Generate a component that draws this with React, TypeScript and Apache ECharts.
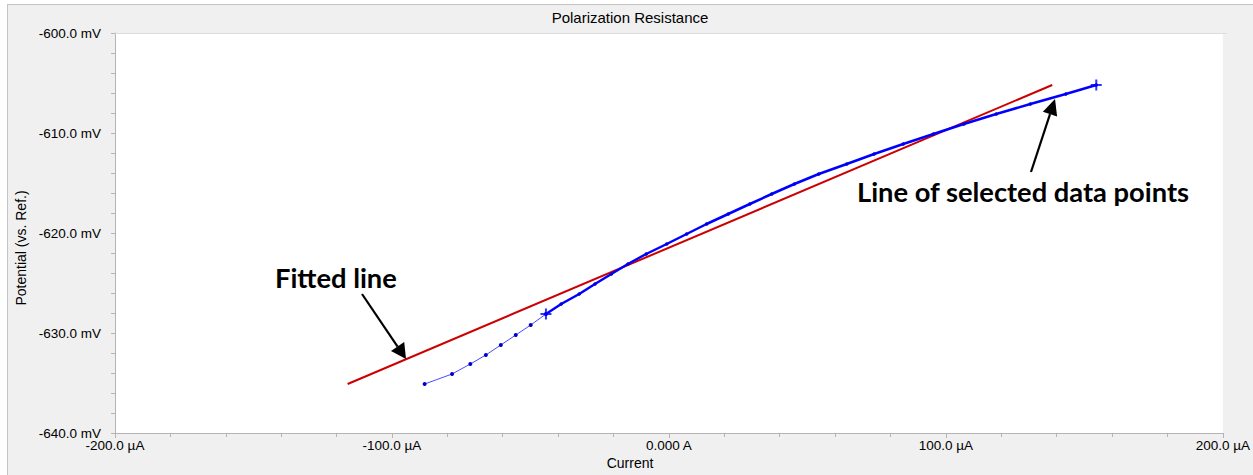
import React, { useEffect, useRef } from "react";
import * as echarts from "echarts";

// Measured polarization data: current in µA, potential in mV
const unselectedCurrent = [-88.2, -78.3, -71.7, -66.1, -60.7, -55.3, -49.9, -44.4];
const unselectedPotential = [-635.1, -634.1, -633.1, -632.2, -631.2, -630.2, -629.2, -628.1];

const selectedCurrent = [
  -44.4, -38.9, -32.4, -26.7, -20.8, -14.8, -8.2, -0.8, 6.4, 13.6, 21.4, 29.2,
  37.1, 45.3, 54.1, 64.2, 74.1, 84.6, 95.5, 106.5, 118.2, 130.5, 143.3, 154.3,
];
const selectedPotential = [
  -628.1, -627.1, -626.1, -625.1, -624.1, -623.1, -622.1, -621.1, -620.1, -619.1,
  -618.1, -617.1, -616.1, -615.1, -614.1, -613.1, -612.1, -611.1, -610.1, -609.1,
  -608.1, -607.1, -606.1, -605.2,
];

// Linear fit through the selected region
const fittedCurrent = [-116.0, 138.4];
const fittedPotential = [-635.1, -605.2];

const xTicks = { min: -200, max: 200, interval: 100 };
const yTicks = { min: -640, max: -600, interval: 10 };

const TEXT_FONT = "'Liberation Sans', Arial, sans-serif";
const NOTE_FONT = "Lato, 'Open Sans', sans-serif";

const zip = (xs: number[], ys: number[]) => xs.map((x, i) => [x, ys[i]]);

const PLUS = "path://M4.5,0H6.5V11H4.5Z M0,4.5H11V6.5H0Z";

// Straight arrow with a filled triangular head, in pixel space
function arrow(x1: number, y1: number, x2: number, y2: number, headLen: number, headHalf: number) {
  const dx = x2 - x1;
  const dy = y2 - y1;
  const len = Math.hypot(dx, dy);
  const ux = dx / len;
  const uy = dy / len;
  const bx = x2 - ux * headLen;
  const by = y2 - uy * headLen;
  const px = -uy * headHalf;
  const py = ux * headHalf;
  return [
    {
      type: "line",
      shape: { x1, y1, x2: bx, y2: by },
      style: { stroke: "#000", lineWidth: 2.2 },
      z: 20,
    },
    {
      type: "polygon",
      shape: { points: [[x2, y2], [bx + px, by + py], [bx - px, by - py]] },
      style: { fill: "#000" },
      z: 20,
    },
  ];
}

export default function App() {
  const ref = useRef<HTMLDivElement>(null);

  useEffect(() => {
    if (!ref.current) return;
    const chart = echarts.init(ref.current, null, { renderer: "svg" });

    const axisLine = { show: true, lineStyle: { color: "#b4b4b4", width: 1 } };

    chart.setOption({
      animation: false,
      backgroundColor: "transparent",
      grid: {
        left: 115,
        right: 26,
        top: 33,
        bottom: 42,
        show: true,
        backgroundColor: "#ffffff",
        borderWidth: 0,
      },
      xAxis: {
        type: "value",
        min: xTicks.min,
        max: xTicks.max,
        interval: xTicks.interval,
        axisLine: { ...axisLine, onZero: false },
        axisTick: { show: true, length: 5, lineStyle: { color: "#b4b4b4" } },
        minorTick: { show: true, splitNumber: 5, length: 4, lineStyle: { color: "#b4b4b4" } },
        splitLine: { show: false },
        axisLabel: {
          color: "#000",
          fontSize: 13.5,
          fontFamily: TEXT_FONT,
          margin: 5,
          formatter: (v: number) => (v === 0 ? "0.000 A" : `${v.toFixed(1)} µA`),
        },
      },
      yAxis: {
        type: "value",
        min: yTicks.min,
        max: yTicks.max,
        interval: yTicks.interval,
        axisLine: { ...axisLine, onZero: false },
        axisTick: { show: true, length: 4, lineStyle: { color: "#b4b4b4" } },
        minorTick: { show: true, splitNumber: 5, length: 4, lineStyle: { color: "#b4b4b4" } },
        splitLine: { show: false },
        axisLabel: {
          color: "#000",
          fontSize: 13.5,
          fontFamily: TEXT_FONT,
          margin: 14,
          formatter: (v: number) => `${v.toFixed(1)} mV`,
        },
      },
      series: [
        {
          name: "Fit",
          type: "line",
          data: zip(fittedCurrent, fittedPotential),
          symbol: "none",
          lineStyle: { color: "#cc0000", width: 2 },
          z: 3,
        },
        {
          name: "Unselected",
          type: "line",
          data: zip(unselectedCurrent, unselectedPotential),
          symbol: "circle",
          symbolSize: 4,
          itemStyle: { color: "#0000c8" },
          lineStyle: { color: "#4a4aff", width: 1 },
          z: 4,
        },
        {
          name: "Selected",
          type: "line",
          data: zip(selectedCurrent, selectedPotential),
          symbol: "circle",
          symbolSize: 3.5,
          itemStyle: { color: "#0000e0" },
          lineStyle: { color: "#0000ff", width: 2.5 },
          z: 5,
        },
        {
          name: "Bounds",
          type: "scatter",
          data: [
            [selectedCurrent[0], selectedPotential[0]],
            [selectedCurrent[selectedCurrent.length - 1], selectedPotential[selectedPotential.length - 1]],
          ],
          symbol: PLUS,
          symbolSize: 11,
          itemStyle: { color: "#0000ff" },
          z: 6,
        },
      ],
      graphic: [
        {
          type: "line",
          shape: { x1: 115, y1: 33.5, x2: 1227, y2: 33.5 },
          style: { stroke: "#dcdcdc", lineWidth: 1 },
          z: 1,
        },
        {
          type: "text",
          x: 630,
          y: 17,
          style: {
            text: "Polarization Resistance",
            font: `15px ${TEXT_FONT}`,
            fill: "#000",
            align: "center",
            verticalAlign: "middle",
          },
        },
        {
          type: "text",
          x: 630,
          y: 463,
          style: {
            text: "Current",
            font: `14px ${TEXT_FONT}`,
            fill: "#000",
            align: "center",
            verticalAlign: "middle",
          },
        },
        {
          type: "text",
          x: 21,
          y: 248,
          rotation: Math.PI / 2,
          style: {
            text: "Potential (vs. Ref.)",
            font: `14px ${TEXT_FONT}`,
            fill: "#000",
            align: "center",
            verticalAlign: "middle",
          },
        },
        {
          type: "text",
          x: 275,
          y: 277,
          style: {
            text: "Fitted line",
            font: `bold 27.3px ${NOTE_FONT}`,
            fill: "#000",
            align: "left",
            verticalAlign: "middle",
          },
          z: 20,
        },
        {
          type: "text",
          x: 857,
          y: 191,
          style: {
            text: "Line of selected data points",
            font: `bold 27.3px ${NOTE_FONT}`,
            fill: "#000",
            align: "left",
            verticalAlign: "middle",
          },
          z: 20,
        },
        ...arrow(362, 294, 406, 359, 15, 8),
        ...arrow(1031, 172, 1055, 99, 16, 7.5),
      ],
    });

    return () => chart.dispose();
  }, []);

  return (
    <div style={{ position: "absolute", left: 0, top: 0, width: 1253, height: 475, background: "#ffffff", overflow: "hidden" }}>
      <div
        style={{
          position: "absolute",
          left: 7,
          top: 4,
          width: 1260,
          height: 480,
          background: "#f0f0f0",
          borderTop: "1px solid #c4c4c4",
          borderLeft: "1px solid #c4c4c4",
        }}
      />
      <div ref={ref} style={{ position: "absolute", left: 0, top: 0, width: 1253, height: 475 }} />
    </div>
  );
}
